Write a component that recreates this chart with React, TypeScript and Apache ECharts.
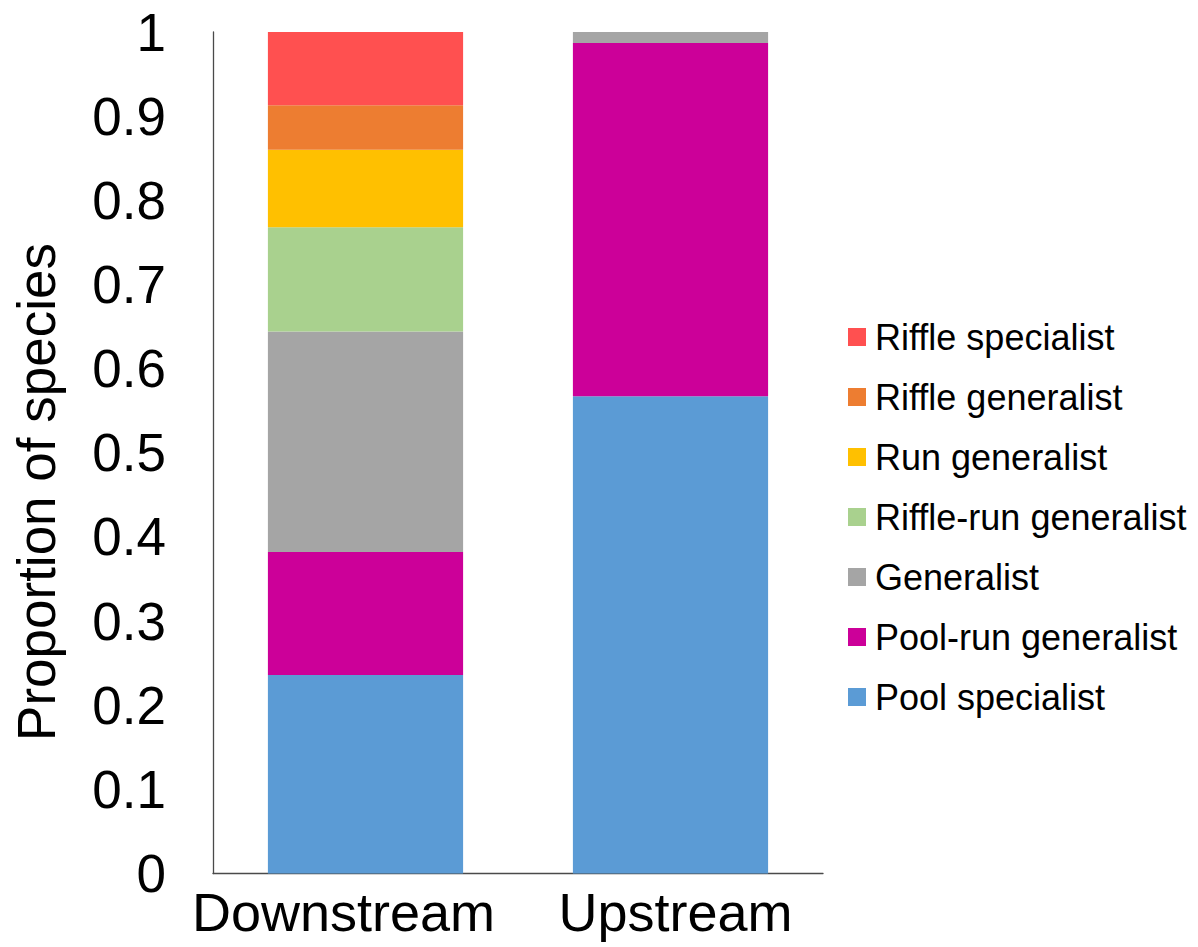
import React, { useEffect, useRef } from "react";
import * as echarts from "echarts";

const categories = ["Downstream", "Upstream"];
const seriesNames = [
  "Pool specialist",
  "Pool-run generalist",
  "Generalist",
  "Riffle-run generalist",
  "Run generalist",
  "Riffle generalist",
  "Riffle specialist",
];
const poolSpecialist = [0.236, 0.567];
const poolRunGeneralist = [0.146, 0.42];
const generalist = [0.262, 0.013];
const riffleRunGeneralist = [0.124, 0];
const runGeneralist = [0.092, 0];
const riffleGeneralist = [0.053, 0];
const riffleSpecialist = [0.087, 0];
const seriesValues = [
  poolSpecialist,
  poolRunGeneralist,
  generalist,
  riffleRunGeneralist,
  runGeneralist,
  riffleGeneralist,
  riffleSpecialist,
];
const colors = ["#5B9BD5", "#CC0099", "#A5A5A5", "#A9D18E", "#FFC000", "#ED7D31", "#FF5050"];
const yAxisTitle = "Proportion of species";

const FONT = "'Liberation Sans', Arial, sans-serif";

export default function App() {
  const ref = useRef<HTMLDivElement>(null);
  useEffect(() => {
    document.body.style.margin = "0";
    if (!ref.current) return;
    const chart = echarts.init(ref.current, undefined, { renderer: "svg" });
    chart.setOption({
      animation: false,
      backgroundColor: "#ffffff",
      textStyle: { fontFamily: FONT },
      grid: { left: 213, top: 32, width: 610, height: 841.5, containLabel: false },
      legend: {
        orient: "vertical",
        left: 843,
        top: 314,
        icon: "rect",
        itemWidth: 18,
        itemHeight: 18,
        itemGap: 24,
        data: [...seriesNames].reverse(),
        textStyle: {
          fontFamily: FONT,
          fontSize: 36,
          color: "#000",
          padding: [0, 0, 0, 4],
        },
      },
      graphic: [
        {
          type: "text",
          x: 36,
          y: 492,
          rotation: Math.PI / 2,
          style: {
            text: yAxisTitle,
            fontSize: 53,
            fontFamily: FONT,
            fill: "#000",
            align: "center",
            verticalAlign: "middle",
          },
        },
      ],
      xAxis: {
        type: "category",
        data: categories,
        axisLine: { lineStyle: { color: "#4a4a4a", width: 1.3 } },
        axisTick: { show: false },
        axisLabel: {
          interval: 0,
          hideOverlap: false,
          fontSize: 54,
          color: "#000",
          margin: 11,
          fontFamily: FONT,
          formatter: (v: string) => (v === "Downstream" ? `{d|${v}}` : `{u|${v}}`),
          rich: {
            d: { fontSize: 54, fontFamily: FONT, color: "#000", padding: [0, 44, 0, 0] },
            u: { fontSize: 54, fontFamily: FONT, color: "#000", padding: [0, 0, 0, 10] },
          },
        },
      },
      yAxis: {
        type: "value",
        min: 0,
        max: 1,
        interval: 0.1,
        axisLine: { show: true, lineStyle: { color: "#4a4a4a", width: 1.3 } },
        axisTick: { show: false },
        splitLine: { show: false },
        axisLabel: { fontSize: 53, color: "#000", margin: 47, fontFamily: FONT },
      },
      series: seriesNames.map((name, i) => ({
        name,
        type: "bar",
        stack: "total",
        barCategoryGap: "36%",
        data: seriesValues[i],
        itemStyle: { color: colors[i] },
      })),
    });
    return () => chart.dispose();
  }, []);
  return <div ref={ref} style={{ width: 1198, height: 947 }} />;
}
